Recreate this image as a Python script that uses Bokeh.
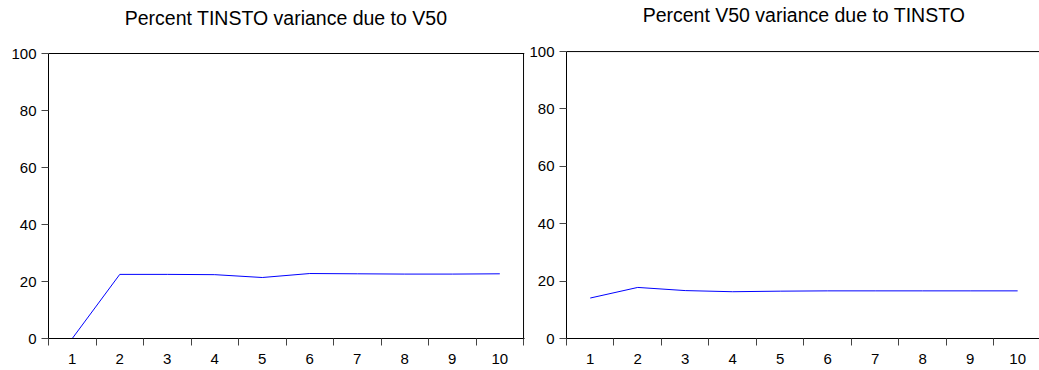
from bokeh.plotting import figure
from bokeh.layouts import row
from bokeh.models import Range1d, FixedTicker, Label, Span
from bokeh.embed import file_html
from bokeh.resources import INLINE

periods = [1, 2, 3, 4, 5, 6, 7, 8, 9, 10]
tinsto_due_v50 = [0.0, 22.5, 22.5, 22.4, 21.4, 22.8, 22.7, 22.6, 22.6, 22.7]
v50_due_tinsto = [14.1, 17.8, 16.7, 16.3, 16.5, 16.6, 16.6, 16.6, 16.6, 16.6]
y_ticks = [0, 20, 40, 60, 80, 100]
x_labels = [str(v) for v in periods]
x_bounds = [v - 0.5 for v in periods] + [periods[-1] + 0.5]
titles = ["Percent TINSTO variance due to V50", "Percent V50 variance due to TINSTO"]

FONT = "Liberation Sans"


def make_panel(title, values, width, border_left, border_right, x_end, y_end,
               right_border, title_y):
    # the view range extends above 100 so that the title sits in the plot area;
    # the boxed region of the chart is 0..100
    p = figure(width=width, height=370, output_backend="svg", toolbar_location=None,
               x_range=Range1d(x_bounds[0], x_end), y_range=Range1d(y_ticks[0], y_end),
               min_border_left=border_left, min_border_right=border_right,
               min_border_top=0, min_border_bottom=32,
               background_fill_color="white", border_fill_color="white")
    p.xgrid.visible = False
    p.ygrid.visible = False
    p.outline_line_color = None

    # top edge of the box
    p.add_layout(Span(location=y_ticks[-1], dimension="width",
                      line_color="#000000", line_width=1))
    if right_border:
        p.segment(x0=[x_bounds[-1]], y0=[y_ticks[0]], x1=[x_bounds[-1]], y1=[y_ticks[-1]],
                  line_color="#000000", line_width=1)

    p.add_layout(Label(x=(periods[0] + periods[-1]) / 2, y=title_y, text=title,
                       text_align="center", text_baseline="alphabetic",
                       text_font=FONT, text_font_size="19.5px", text_color="#000000"))

    xa = p.below[0]
    xa.ticker = FixedTicker(ticks=periods, minor_ticks=x_bounds)
    xa.major_label_overrides = {v: s for v, s in zip(periods, x_labels)}
    xa.major_tick_out = 0
    xa.major_tick_in = 0
    xa.minor_tick_out = 7
    xa.minor_tick_in = 0
    xa.minor_tick_line_color = "#444444"
    xa.axis_line_color = "#000000"
    xa.major_label_standoff = 8
    xa.major_label_text_font = FONT
    xa.major_label_text_font_size = "15px"
    xa.major_label_text_color = "#000000"

    ya = p.left[0]
    ya.ticker = FixedTicker(ticks=y_ticks)
    ya.bounds = (y_ticks[0], y_ticks[-1])
    ya.major_tick_out = 7
    ya.major_tick_in = 0
    ya.minor_tick_line_color = None
    ya.major_tick_line_color = "#444444"
    ya.axis_line_color = "#000000"
    ya.major_label_standoff = 5
    ya.major_label_text_font = FONT
    ya.major_label_text_font_size = "15px"
    ya.major_label_text_color = "#000000"

    p.line(periods, values, line_color="#0000FF", line_width=1)
    return p


p1 = make_panel(titles[0], tinsto_due_v50, width=525, border_left=48, border_right=1,
                x_end=10.52, y_end=118.6, right_border=True, title_y=112.4)
p2 = make_panel(titles[1], v50_due_tinsto, width=514, border_left=41, border_right=0,
                x_end=10.46, y_end=117.8, right_border=False, title_y=112.6)

layout = row(p1, p2)
open("out.html", "w").write(file_html(layout, INLINE))
